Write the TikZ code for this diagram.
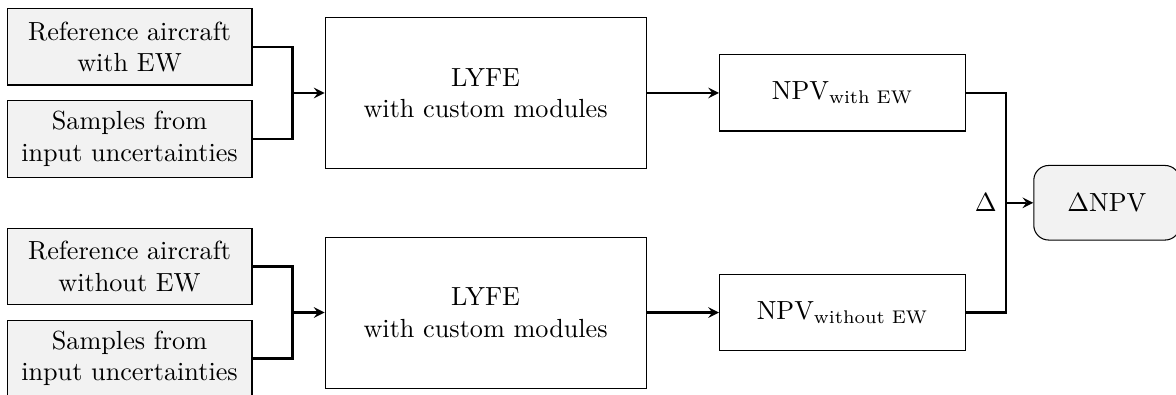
\documentclass[tikz,border=0pt]{standalone}
\usepackage{amsmath}
\usepackage{xcolor}
\usepackage{tikz}
\usetikzlibrary{positioning,arrows.meta,calc}

\begin{document}
\begin{tikzpicture}[node distance=0.2cm and 0.97cm, auto]
    % Styles
    \tikzstyle{inbox} = [rectangle, minimum width=3.285cm, minimum height=1.02cm,
                         align=center, draw=black, fill=gray!10]
    \tikzstyle{model} = [rectangle, minimum width=4.305cm, minimum height=2.025cm,
                         align=center, draw=black, fill=white]
    \tikzstyle{result} = [rectangle, minimum width=3.3cm, minimum height=1.02cm,
                          align=center, draw=black, fill=white]
    \tikzstyle{delta} = [rectangle, rounded corners=0.2cm, minimum width=1.96cm, minimum height=1.0cm,
                         align=center, draw=black, fill=gray!10]
    \tikzstyle{line} = [thick]
    \tikzstyle{arrow} = [thick,->,>=stealth]

    \useasboundingbox (0,0) rectangle (15.77,-5.284);

    % Inputs, two per branch
    \node (in1) [inbox] at (1.737,-0.630) {Reference aircraft\\with EW};
    \node (in2) [inbox, below=of in1] {Samples from\\input uncertainties};
    \node (in3) [inbox] at (1.737,-3.574) {Reference aircraft\\without EW};
    \node (in4) [inbox, below=of in3] {Samples from\\input uncertainties};

    % Junctions where the inputs meet
    \coordinate (j1) at ($(in1.east)!0.5!(in2.east) + (0.536,0)$);
    \coordinate (j2) at ($(in3.east)!0.5!(in4.east) + (0.536,0)$);

    % Model runs and results
    \node (lyfe1) [model, right=0.43cm of j1] {LYFE\\with custom modules};
    \node (lyfe2) [model, right=0.43cm of j2] {LYFE\\with custom modules};
    \node (npv1) [result, right=of lyfe1] {NPV$_{\text{with EW}}$};
    \node (npv2) [result, right=of lyfe2] {NPV$_{\text{without EW}}$};

    \coordinate (j3) at ($(npv1.east)!0.5!(npv2.east) + (0.54,0)$);
    \node (dnpv) [delta, right=0.36cm of j3] {$\Delta$NPV};

    % Connectors
    \draw [line] (in1.east) -| (j1) |- (in2.east);
    \draw [line] (in3.east) -| (j2) |- (in4.east);
    \draw [arrow] (j1) -- (lyfe1);
    \draw [arrow] (j2) -- (lyfe2);
    \draw [arrow] (lyfe1) -- (npv1);
    \draw [arrow] (lyfe2) -- (npv2);
    \draw [line] (npv1.east) -| (j3) |- (npv2.east);
    \draw [arrow] (j3) node[left] {$\Delta$} -- (dnpv);

\end{tikzpicture}
\end{document}
